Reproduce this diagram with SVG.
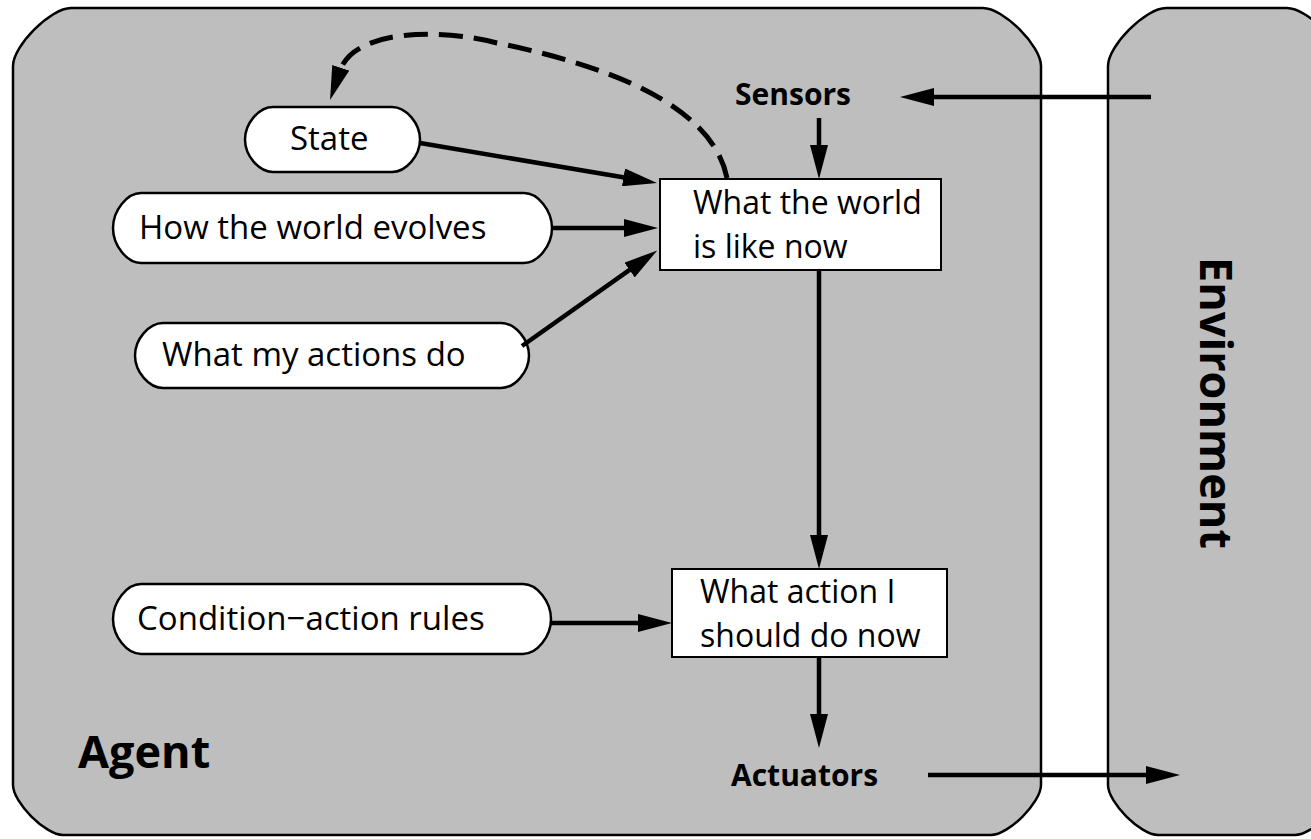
<svg xmlns="http://www.w3.org/2000/svg" width="1311" height="839" viewBox="0 0 1311 839">
  <style>
    .frame { fill: #bebebe; stroke: #000; stroke-width: 2.5; }
    .pill { fill: #fff; stroke: #000; stroke-width: 2.5; }
    .box { fill: #fff; stroke: #000; stroke-width: 2; }
    .txt { font-family: "Open Sans", "Liberation Sans", sans-serif; font-size: 33px; fill: #000; }
    .btxt { font-family: "Open Sans", "Liberation Sans", sans-serif; font-size: 32px; fill: #000; }
    .lbl { font-family: "Open Sans", "Liberation Sans", sans-serif; font-size: 30px; font-weight: bold; fill: #000; }
    .big { font-family: "Open Sans", "Liberation Sans", sans-serif; font-weight: bold; fill: #000; }
    .wire { fill: none; stroke: #000; stroke-width: 4.5; marker-end: url(#head); }
    .dash { stroke-width: 5; stroke-dasharray: 24 11; }
  </style>
  <defs>
    <marker id="head" viewBox="0 0 34 18" markerWidth="34" markerHeight="18" refX="4" refY="9" orient="auto" markerUnits="userSpaceOnUse">
      <path d="M0,0 L34,9 L0,18 Z" fill="#000" stroke="none"/>
    </marker>
  </defs>

  <!-- outer containers -->
  <g id="agent">
    <path class="frame" d="M71,8 H983 C1003.3,8 1041,45.7 1041,66 V785 C1041,802.5 1008.5,835 991,835 H63 C45.5,835 13,802.5 13,785 V66 C13,45.7 50.7,8 71,8 Z"/>
    <text class="big" x="78" y="768" font-size="45">Agent</text>
  </g>
  <g id="environment">
    <path class="frame" d="M1166,8 H1287 C1307.3,8 1345,45.7 1345,66 V785 C1345,802.5 1312.5,835 1295,835 H1158 C1140.5,835 1108,802.5 1108,785 V66 C1108,45.7 1145.7,8 1166,8 Z"/>
    <text class="big" font-size="45" text-anchor="middle" transform="translate(1200,403) rotate(90)">Environment</text>
  </g>

  <!-- ports -->
  <g id="sensors">
    <text class="lbl" x="735" y="105">Sensors</text>
  </g>
  <g id="actuators">
    <text class="lbl" x="731" y="786">Actuators</text>
  </g>

  <!-- knowledge pills -->
  <g id="state">
    <path class="pill" d="M273,107 H392 C406,107 420,123.25 420,139.5 C420,155.75 406,172 392,172 H273 C259,172 245,155.75 245,139.5 C245,123.25 259,107 273,107 Z"/>
    <text class="txt" x="290" y="150">State</text>
  </g>
  <g id="world-evolves">
    <path class="pill" d="M141,193 H524 C538,193 552,210.5 552,228 C552,245.5 538,263 524,263 H141 C127,263 113,245.5 113,228 C113,210.5 127,193 141,193 Z"/>
    <text class="txt" x="139" y="239">How the world evolves</text>
  </g>
  <g id="actions-do">
    <path class="pill" d="M163,323 H501 C515,323 529,339.25 529,355.5 C529,371.75 515,388 501,388 H163 C149,388 135,371.75 135,355.5 C135,339.25 149,323 163,323 Z"/>
    <text class="txt" x="162" y="366">What my actions do</text>
  </g>
  <g id="rules">
    <path class="pill" d="M141,584 H523 C537,584 551,601.5 551,619 C551,636.5 537,654 523,654 H141 C127,654 113,636.5 113,619 C113,601.5 127,584 141,584 Z"/>
    <text class="txt" x="137" y="630">Condition−action rules</text>
  </g>

  <!-- processing boxes -->
  <g id="world-now">
    <rect class="box" x="660" y="179" width="281" height="91"/>
    <text class="btxt" x="693" y="214">What the world</text>
    <text class="btxt" x="693" y="258">is like now</text>
  </g>
  <g id="action-now">
    <rect class="box" x="672" y="569" width="275" height="88"/>
    <text class="btxt" x="700" y="603">What action I</text>
    <text class="btxt" x="700" y="647">should do now</text>
  </g>

  <!-- connectors -->
  <g id="connectors">
    <path class="wire" d="M1151,97 H930"/>
    <path class="wire" d="M819,118 V149"/>
    <path class="wire" d="M420,143 L627.4,178"/>
    <path class="wire" d="M552,228 H628"/>
    <path class="wire" d="M522,346 L632.8,267.7"/>
    <path class="wire" d="M819,270 V539"/>
    <path class="wire" d="M551,623 H642"/>
    <path class="wire" d="M819,657 V718"/>
    <path class="wire" d="M928,775 H1150"/>
    <path class="wire dash" d="M727,178 C715,118 640,72 497,43 C440,28 353.7,28.9 339.5,71.6"/>
  </g>
</svg>
